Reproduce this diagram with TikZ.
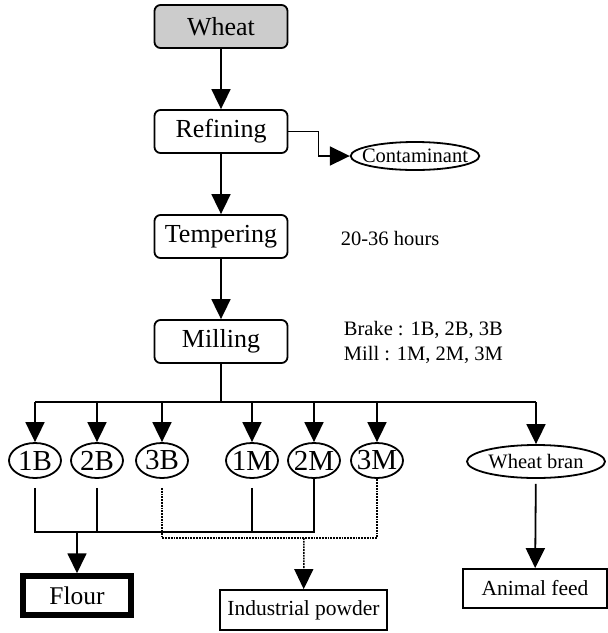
\documentclass[tikz,border=0pt]{standalone}
\usepackage{fontspec}
\setmainfont{Liberation Serif}
\usetikzlibrary{arrows.meta,shapes.geometric}

\begin{document}
\begin{tikzpicture}[x=1pt,y=-1pt]
\tikzstyle{every path}=[line width=1.8pt]
\tikzstyle{proc}=[draw,rounded corners=6pt,minimum width=133pt,minimum height=43pt,inner sep=0pt,font=\fontsize{26}{28}\selectfont]
\tikzstyle{prod}=[draw,shape=ellipse,minimum width=52pt,minimum height=35pt,inner xsep=-3pt,inner ysep=0pt,font=\fontsize{29}{30}\selectfont]
\tikzstyle{endbox}=[draw,shape=rectangle,inner sep=0pt,font=\fontsize{21.5}{24}\selectfont]
\tikzstyle{note}=[anchor=west,inner sep=0pt,font=\fontsize{20.5}{24}\selectfont]
\tikzstyle{arr}=[-{Triangle[length=20pt,width=19pt]}]
\tikzstyle{dotline}=[densely dotted,line width=1.5pt]
\useasboundingbox (0,0) rectangle (608,633);

\path (221,26.5) node[proc,fill=gray!40](w){Wheat}
      (221,131.5) node[proc](r){Refining}
      (221,236.5) node[proc](t){Tempering}
      (221,341.5) node[proc](m){Milling};
\path (415,156) node[draw,shape=ellipse,minimum width=126pt,minimum height=28pt,inner xsep=-7.5pt,inner ysep=0pt,font=\fontsize{20.5}{22}\selectfont](c){Contaminant};
\path (340,238) node[note](h){20-36 hours}
      (343,330) node[note](br){Brake : 1B, 2B, 3B}
      (343,355) node[note](ml){Mill : 1M, 2M, 3M};

\draw[arr] (w) -- (r);
\draw[arr] (r) -- (t);
\draw[arr] (t) -- (m);
\draw[arr] (r.east) -- ++(30,0) |- (c.west);

\path (35,460.5) node[prod](b1){1B} (97,460.5) node[prod](b2){2B}
      (162,460.5) node[prod](b3){3B} (252,460.5) node[prod](m1){1M}
      (314,460.5) node[prod](m2){2M} (377,460.5) node[prod](m3){3M};
\path (536,461.5) node[draw,shape=ellipse,minimum width=138pt,minimum height=33pt,inner sep=0pt,font=\fontsize{20.5}{22}\selectfont](wb){Wheat bran};

\coordinate (bus) at (221,402);
\draw (m) -- (bus);
\draw (b1 |- bus) -- (wb |- bus);
\foreach \n in {b1,b2,b3,m1,m2,m3,wb}
  \draw[arr] (\n |- bus) -- (\n);

\path (77,595.5) node[endbox,line width=5.5pt,minimum width=108pt,minimum height=39pt,font=\fontsize{25.5}{28}\selectfont](f){Flour}
      (303.5,610) node[endbox,minimum width=167pt,minimum height=40pt](ip){Industrial powder}
      (535,588.5) node[endbox,minimum width=144pt,minimum height=39pt](af){Animal feed};

\coordinate (fj) at (77,532);
\coordinate (pj) at (304,538);
\draw[shorten <=9pt] (b1.south) |- (m2 |- fj) -- (m2.south);
\draw[shorten <=9pt] (b2.south) -- (b2 |- fj);
\draw[shorten <=9pt] (m1.south) -- (m1 |- fj);
\draw[arr] (fj) -- (f);
\draw[dotline,shorten <=9pt] (b3.south) |- (m3 |- pj) -- (m3.south);
\draw[dotline,arr] (pj) -- (ip);
\draw[arr,shorten <=5pt] (wb) -- (af);
\end{tikzpicture}
\end{document}
